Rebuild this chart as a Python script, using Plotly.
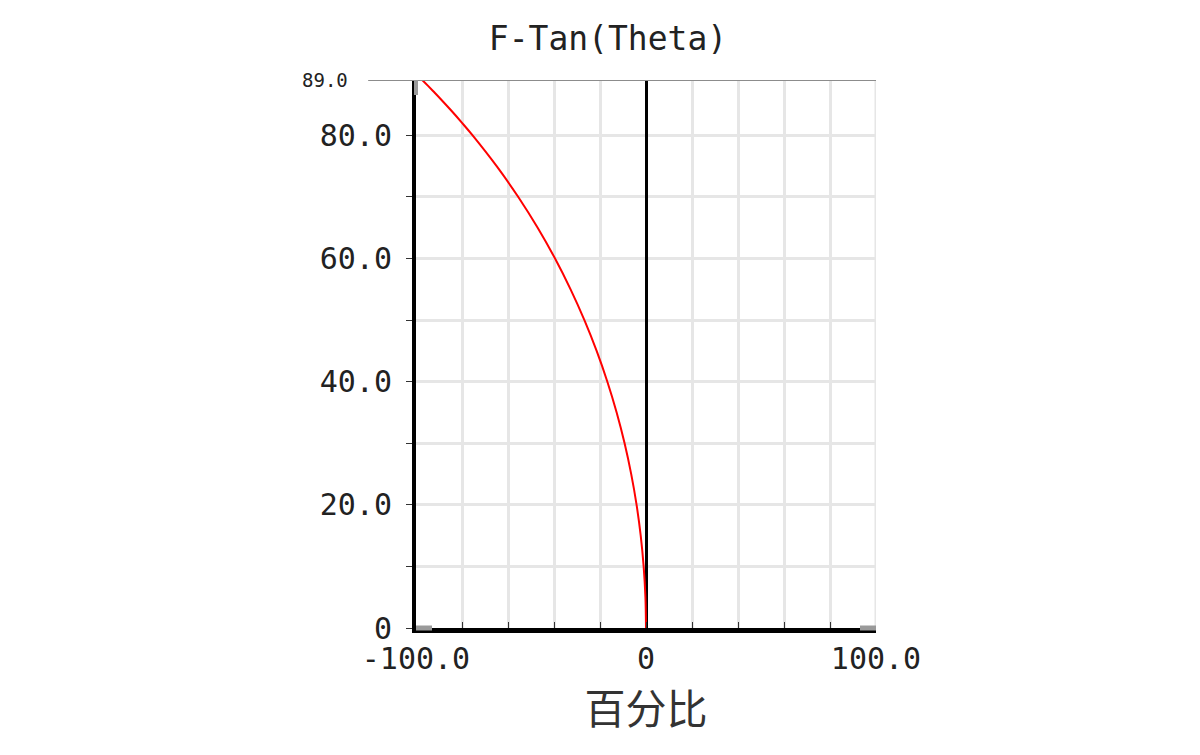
import plotly.graph_objects as go

# Field angle (degrees) and F-Tan(Theta) distortion (%)
theta_deg = [0, 5, 10, 15, 20, 25, 30, 35, 40, 45, 50, 55, 60, 65, 70, 75, 80, 82, 84, 86, 87, 88, 89]
distortion_pct = [0.0, -0.25, -1.02, -2.30, -4.09, -6.43, -9.31, -12.76, -16.80, -21.46, -26.78,
                  -32.79, -39.54, -47.10, -55.53, -64.93, -75.38, -79.89, -84.59, -89.50, -92.04,
                  -94.64, -97.29]

x_tickvals = [-100, -80, -60, -40, -20, 0, 20, 40, 60, 80, 100]
x_ticktext = ["-100.0", "", "", "", "", "0", "", "", "", "", "100.0"]
y_tickvals = [0, 10, 20, 30, 40, 50, 60, 70, 80]
y_ticktext = ["0", "", "20.0", "", "40.0", "", "60.0", "", "80.0"]
y_max = 89.0

MONO = "DejaVu Sans Mono"

fig = go.Figure()
fig.add_trace(go.Scatter(
    x=distortion_pct, y=theta_deg, mode="lines",
    line=dict(color="#ff0000", width=2, shape="spline"),
    hoverinfo="skip", showlegend=False,
))

fig.update_layout(
    width=1200, height=755,
    paper_bgcolor="white", plot_bgcolor="white",
    margin=dict(l=408, r=332, t=72, b=135),
    title=dict(text="F-Tan(Theta)", x=0.5, xref="container", xanchor="center",
               y=1 - 30 / 755, yref="container", yanchor="middle",
               font=dict(family=MONO, size=33, color="#222222")),
    xaxis=dict(
        range=[-100, 100], tickvals=x_tickvals, ticktext=x_ticktext,
        showgrid=True, gridcolor="#e6e6e6", gridwidth=3,
        zeroline=True, zerolinecolor="black", zerolinewidth=3,
        showline=True, linecolor="black", linewidth=5,
        ticks="inside", ticklen=6, tickwidth=1, tickcolor="#333333",
        tickfont=dict(family=MONO, size=30, color="#222222"),
        title=dict(text="百分比", standoff=16,
                   font=dict(family="Noto Sans CJK SC", size=41, color="#333333")),
        fixedrange=True,
    ),
    yaxis=dict(
        range=[0, y_max], tickvals=y_tickvals, ticktext=y_ticktext,
        showgrid=True, gridcolor="#e6e6e6", gridwidth=3,
        zeroline=False,
        showline=True, linecolor="black", linewidth=4,
        ticks="outside", ticklen=6, tickwidth=1, tickcolor="#333333",
        ticklabelstandoff=8,
        tickfont=dict(family=MONO, size=30, color="#222222"),
        fixedrange=True,
    ),
)

# top border line at the max field angle
fig.add_shape(type="line", xref="paper", yref="y", x0=-0.104, x1=1.0, y0=y_max, y1=y_max,
              line=dict(color="#8c8c8c", width=2), layer="above")
# right edge grid line
fig.add_shape(type="line", xref="x", yref="paper", x0=100, x1=100, y0=0, y1=1,
              line=dict(color="#e6e6e6", width=3), layer="below")
# grey end caps on the axis lines
fig.add_shape(type="line", xref="paper", yref="paper", x0=0, x1=0, y0=1 - 15 / 548, y1=1,
              line=dict(color="#9a9a9a", width=4), layer="above")
fig.add_shape(type="line", xref="paper", yref="paper", x0=0, x1=16 / 460, y0=0, y1=0,
              line=dict(color="#9a9a9a", width=5), layer="above")
fig.add_shape(type="line", xref="paper", yref="paper", x0=1 - 16 / 460, x1=1, y0=0, y1=0,
              line=dict(color="#9a9a9a", width=5), layer="above")

fig.add_annotation(text=f"{y_max:.1f}", xref="paper", yref="y", x=-0.143, y=y_max,
                   xanchor="right", yanchor="middle", showarrow=False,
                   font=dict(family=MONO, size=19, color="#222222"))

fig.write_html("out.html")
